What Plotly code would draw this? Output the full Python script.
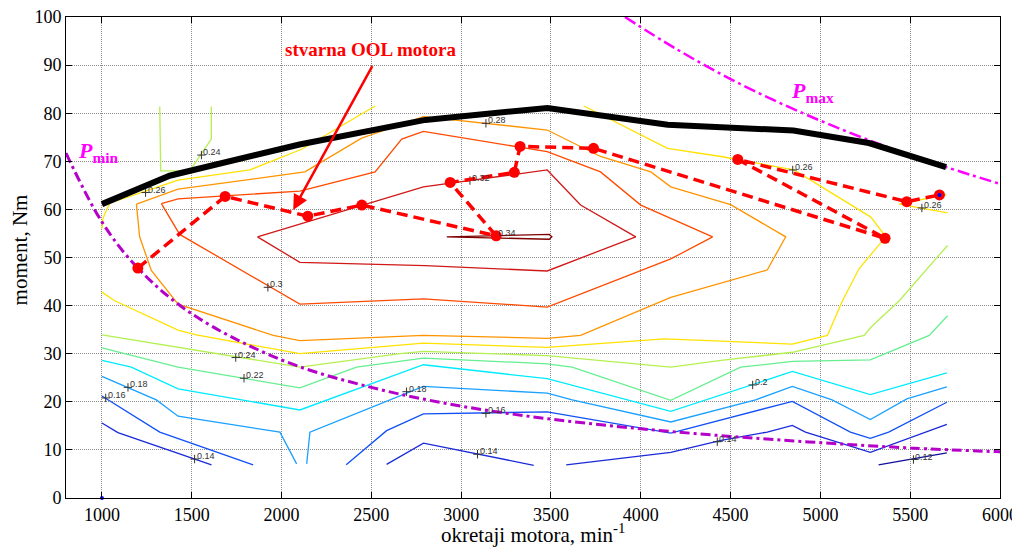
import plotly.graph_objects as go

# ---------------- data ----------------
# max torque curve
tmax_n = [1000, 1377, 2100, 2800, 3480, 4150, 4850, 5270, 5700]
tmax_t = [61.1, 67.0, 73.5, 78.6, 81.1, 77.6, 76.4, 73.8, 68.8]

# P max hyperbola (read points)
pmax_n = [3912, 4200, 4500, 4800, 5100, 5400, 5700, 6000]
pmax_t = [100.0, 93.3, 87.1, 81.7, 76.9, 72.6, 68.8, 65.3]

# P min hyperbola (read points)
pmin_n = [800, 1000, 1200, 1500, 2000, 2500, 3000, 3500, 4000, 4500, 5000, 5500, 6000]
pmin_t = [71.7, 57.4, 47.8, 38.3, 28.7, 23.0, 19.1, 16.4, 14.4, 12.8, 11.5, 10.4, 9.6]

# real operating line (OOL)
ool_n = [1200, 1686, 2146, 2447, 3195, 2939, 3296, 3328, 3737, 5360, 4540, 5481, 5663]
ool_t = [47.8, 62.7, 58.6, 60.9, 54.5, 65.6, 67.7, 73.1, 72.7, 54.0, 70.4, 61.6, 63.0]

# efficiency contour pieces
c034_n = [2920, 3490, 3505, 3490, 2920]
c034_t = [54.3, 54.8, 54.3, 53.8, 54.3]

c032_n = [1866, 2790, 3479, 3665, 3972, 3479, 2800, 2102, 1866]
c032_t = [54.3, 64.7, 68.2, 60.9, 54.3, 47.2, 48.3, 49.0, 54.3]

c030_n = [1331, 1424, 2102, 2521, 2669, 2790, 3479, 3776, 4000, 4400, 4167, 3479, 2790, 2102, 1433, 1331]
c030_t = [61.2, 62.2, 63.8, 67.8, 74.6, 76.2, 72.0, 67.8, 60.9, 54.3, 49.7, 39.7, 41.4, 40.3, 54.8, 61.2]

c028_n = [1192, 1424, 2130, 2446, 2660, 2790, 3479, 3776, 4056, 4167, 4500, 4807, 4704, 4167,
          3665, 3479, 2790, 2102, 1954, 1424, 1275, 1210, 1192]
c028_t = [61.1, 64.2, 67.8, 74.8, 77.6, 79.3, 76.5, 71.0, 67.8, 64.7, 61.0, 54.3, 47.4, 41.7,
          33.8, 33.2, 33.8, 32.7, 33.8, 40.3, 47.3, 54.3, 61.1]

c026a_n = [1000, 1006, 1043, 1424, 1823, 2112, 2521]
c026a_t = [56.0, 58.2, 61.3, 66.1, 68.2, 72.5, 81.5]
c026b_n = [1000, 1071, 1424, 1526, 2102, 2790, 3479, 3665, 4130, 4447, 4844, 5039, 5123, 5216,
           5364, 5281, 4853, 4447, 4149, 3683]
c026b_t = [42.8, 41.0, 34.9, 33.9, 30.0, 32.2, 31.3, 31.8, 33.1, 32.6, 32.0, 33.8, 41.0, 47.7,
           54.3, 58.4, 68.2, 71.0, 72.7, 81.5]
c026c_n = [5700, 5439, 5708]
c026c_t = [63.1, 61.1, 59.3]

c024a_n = [1322, 1327, 1489, 1609, 1609]
c024a_t = [81.4, 68.0, 68.0, 74.6, 81.4]
c024b_n = [1000, 2102, 2660, 2790, 3479, 4167, 4447, 4844, 5244, 5281, 5439, 5504, 5708]
c024b_t = [33.9, 27.2, 30.0, 30.5, 29.6, 27.2, 28.6, 30.3, 33.8, 35.5, 41.0, 43.8, 52.5]

c022_n = [1000, 1424, 2102, 2418, 2790, 3479, 3618, 4167, 4556, 4844, 5278, 5606, 5708]
c022_t = [31.2, 27.2, 22.9, 27.2, 29.1, 27.9, 27.2, 20.3, 27.2, 28.4, 28.7, 33.8, 37.9]

c020_n = [1000, 1164, 1424, 2102, 2790, 3479, 4167, 4844, 5278, 5704]
c020_t = [28.6, 27.2, 22.7, 18.3, 27.7, 24.8, 18.0, 26.3, 21.5, 26.0]

c018a_n = [1000, 1303, 1424, 1991, 2084]
c018a_t = [25.3, 20.4, 17.0, 13.7, 7.1]
c018b_n = [2140, 2158, 2790, 3479, 3618, 4167, 4639, 4844, 5065, 5278, 5481, 5704]
c018b_t = [7.1, 13.7, 23.2, 21.8, 20.4, 15.8, 20.4, 23.2, 20.4, 16.3, 20.6, 23.1]

c016a_n = [1000, 1322, 1842]
c016a_t = [21.2, 13.7, 6.9]
c016b_n = [2360, 2585, 2790, 3479, 4167, 4844, 5167, 5278, 5380, 5704]
c016b_t = [6.9, 14.0, 17.5, 17.9, 13.5, 20.1, 13.7, 12.4, 13.7, 19.9]

c014a_n = [1000, 1089, 1610]
c014a_t = [15.6, 13.6, 6.9]
c014b_n = [2585, 2790, 3404]
c014b_t = [7.0, 11.4, 6.8]
c014c_n = [3585, 4167, 4447, 4704, 4844, 4917, 5278, 5611, 5704]
c014c_t = [6.9, 9.5, 12.0, 13.7, 15.1, 13.7, 9.5, 14.0, 15.3]

c012_n = [5324, 5704]
c012_t = [6.9, 9.4]

# contour labels: text, n, torque
lab_text = ["0.34", "0.32", "0.28", "0.3", "0.26", "0.24", "0.26", "0.26", "0.24", "0.22",
            "0.18", "0.16", "0.14", "0.18", "0.16", "0.14", "0.2", "0.12", "0.14"]
lab_n = [3196, 3049, 3138, 1924, 1243, 1554, 4846, 5565, 1745, 1791,
         1145, 1021, 1516, 2696, 3138, 3091, 4623, 5518, 4426]
lab_t = [54.4, 66.0, 77.9, 43.8, 63.5, 71.3, 68.2, 60.3, 29.2, 24.9,
         23.0, 20.8, 8.1, 22.1, 17.6, 9.1, 23.5, 8.0, 11.7]

x_ticks = [1000, 1500, 2000, 2500, 3000, 3500, 4000, 4500, 5000, 5500, 6000]
y_ticks = [0, 10, 20, 30, 40, 50, 60, 70, 80, 90, 100]

# ---------------- figure ----------------
contours = [
    ("#7f0000", c034_n, c034_t),
    ("#d01818", c032_n, c032_t),
    ("#ff4a00", c030_n, c030_t),
    ("#ff9400", c028_n, c028_t),
    ("#ffe200", c026a_n, c026a_t),
    ("#ffe200", c026b_n, c026b_t),
    ("#ffe200", c026c_n, c026c_t),
    ("#b4f050", c024a_n, c024a_t),
    ("#b4f050", c024b_n, c024b_t),
    ("#66ee90", c022_n, c022_t),
    ("#00eaff", c020_n, c020_t),
    ("#1aa0ff", c018a_n, c018a_t),
    ("#1aa0ff", c018b_n, c018b_t),
    ("#1050f5", c016a_n, c016a_t),
    ("#1050f5", c016b_n, c016b_t),
    ("#1a2ad8", c014a_n, c014a_t),
    ("#1a2ad8", c014b_n, c014b_t),
    ("#1a2ad8", c014c_n, c014c_t),
    ("#10109a", c012_n, c012_t),
]

fig = go.Figure()

for col, xs, ys in contours:
    fig.add_trace(go.Scatter(x=xs, y=ys, mode="lines",
                             line=dict(color=col, width=1.3), hoverinfo="skip"))

# label crosses
fig.add_trace(go.Scatter(x=lab_n, y=lab_t, mode="markers",
                         marker=dict(symbol="cross-thin", size=6,
                                     line=dict(color="#333333", width=1)),
                         hoverinfo="skip"))

# P min / P max
fig.add_trace(go.Scatter(x=pmin_n, y=pmin_t, mode="lines", line_shape="spline",
                         line=dict(color="#b400c8", width=3, dash="10px,4px,3px,4px")))
fig.add_trace(go.Scatter(x=pmax_n, y=pmax_t, mode="lines", line_shape="spline",
                         line=dict(color="#ff00ff", width=2.5, dash="12px,4px,3px,4px")))

# max torque
fig.add_trace(go.Scatter(x=tmax_n, y=tmax_t, mode="lines",
                         line=dict(color="black", width=6)))

# operating line
fig.add_trace(go.Scatter(x=ool_n, y=ool_t, mode="lines+markers",
                         line=dict(color="#ff0000", width=3.5, dash="11px,6px"),
                         marker=dict(color="#ff0000", size=11)))

# tiny blue marks
fig.add_trace(go.Scatter(x=[1000, 5663], y=[0, 63.0], mode="markers",
                         marker=dict(color="#0000ff", size=4), cliponaxis=False))

ann = []
for t, xn, yt in zip(lab_text, lab_n, lab_t):
    ann.append(dict(x=xn, y=yt, text=t, showarrow=False, xanchor="left", yanchor="bottom",
                    xshift=0, yshift=-4,
                    font=dict(family="Arial", size=9, color="#333333")))

ann.append(dict(x=2065, y=59.9, ax=2510, ay=90.1, axref="x", ayref="y", xref="x", yref="y",
                text="", showarrow=True, arrowhead=2, arrowsize=1.2, arrowwidth=2.5,
                arrowcolor="#ff0000"))
ann.append(dict(x=2493, y=93.3, text="<b>stvarna OOL motora</b>", showarrow=False,
                font=dict(family="Liberation Serif", size=19, color="#ff0000")))
ann.append(dict(x=855, y=72.0, text="<b><i>P</i></b><sub><b>min</b></sub>", showarrow=False,
                xanchor="left", yanchor="middle",
                font=dict(family="Liberation Serif", size=22, color="#ff00ff")))
ann.append(dict(x=4825, y=84.4, text="<b><i>P</i></b><sub><b>max</b></sub>", showarrow=False,
                xanchor="left", yanchor="middle",
                font=dict(family="Liberation Serif", size=22, color="#ff00ff")))
# axis titles
ann.append(dict(x=0.5, y=-0.074, xref="paper", yref="paper", xanchor="center", yanchor="middle",
                text="okretaji motora, min<sup>-1</sup>", showarrow=False,
                font=dict(family="Liberation Serif", size=21, color="black")))
ann.append(dict(x=-0.0497, y=0.516, xref="paper", yref="paper", xanchor="center", yanchor="middle",
                text="moment, Nm", showarrow=False, textangle=-90,
                font=dict(family="Liberation Serif", size=21, color="black")))

axis_common = dict(showline=True, linecolor="black", linewidth=1, mirror="ticks",
                   ticks="inside", ticklen=6, tickcolor="black", automargin=False,
                   ticklabeloverflow="allow",
                   showgrid=True, gridcolor="#8c8c8c", gridwidth=1, griddash="1px,1px",
                   zeroline=False,
                   tickfont=dict(family="Liberation Serif", size=18, color="black"))

# the page body has an 8px margin, so the figure is sized/offset to compensate
fig.update_layout(
    width=1012, height=546,
    margin=dict(l=58, r=20, t=9, b=56),
    paper_bgcolor="white", plot_bgcolor="white",
    showlegend=False,
    annotations=ann,
    xaxis=dict(range=[800, 6000], tickvals=x_ticks, **axis_common),
    yaxis=dict(range=[0, 100], tickvals=y_ticks, **axis_common),
)

fig.write_html("out.html")
